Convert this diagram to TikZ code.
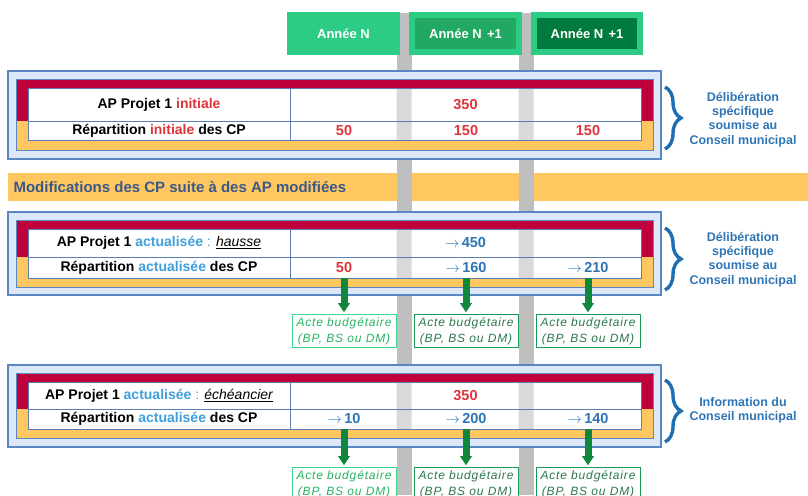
\documentclass[tikz,border=0pt]{standalone}
\usepackage{fontspec}
\setmainfont{Liberation Sans}
\usetikzlibrary{positioning,arrows.meta,decorations.pathreplacing}

\definecolor{hlight}{RGB}{45,204,133}
\definecolor{hmid}{RGB}{33,168,98}
\definecolor{hdark}{RGB}{0,122,61}
\definecolor{barcol}{RGB}{191,191,191}
\definecolor{barlight}{RGB}{217,217,217}
\definecolor{framefill}{RGB}{220,232,248}
\definecolor{framedraw}{RGB}{91,134,196}
\definecolor{tabline}{RGB}{91,125,180}
\definecolor{crim}{RGB}{192,0,60}
\definecolor{orng}{RGB}{255,199,95}
\definecolor{redtxt}{RGB}{222,52,60}
\definecolor{bluetxt}{RGB}{46,117,182}
\definecolor{lbluetxt}{RGB}{64,160,220}
\definecolor{bracecol}{RGB}{31,110,178}
\definecolor{bandtxt}{RGB}{58,88,138}
\definecolor{garrow}{RGB}{16,135,60}
\definecolor{acteA}{RGB}{60,214,140}
\definecolor{acteAtxt}{RGB}{40,180,100}
\definecolor{acteB}{RGB}{30,150,85}
\definecolor{acteBtxt}{RGB}{45,120,75}

\tikzset{
  yearbox/.style={text=white, font=\bfseries\fontsize{13}{15}\selectfont, inner sep=0pt},
  outerframe/.style={fill=framefill, draw=framedraw, line width=1.2pt},
  frameline/.style={draw=framedraw, line width=0.9pt},
  tableline/.style={draw=tabline, line width=0.9pt},
  cell/.style={inner sep=0pt, font=\bfseries\fontsize{14}{16}\selectfont},
  valcell/.style={inner sep=0pt, minimum width=90pt, font=\bfseries\fontsize{14.5}{16}\selectfont},
  actebox/.style={draw, fill=white, line width=1pt, minimum width=104pt, minimum height=33pt,
    inner sep=0pt, align=center,
    font=\itshape\fontsize{12}{16.5}\selectfont\addfontfeature{LetterSpace=7}},
  greenarrow/.style={line width=7pt, draw=garrow,
    -{Triangle[width=12pt,length=9pt,line width=0pt]}, shorten >=2pt},
  sidebrace/.style={decorate, decoration={brace, amplitude=16pt}, draw=bracecol, line width=3.4pt},
  sidetext/.style={align=center, text=bluetxt, font=\bfseries\fontsize{12.5}{14.3}\selectfont},
}

\begin{document}
\begin{tikzpicture}[x=1pt, y=-1pt]
\clip (0,0) rectangle (808,495);

% bandeau et colonnes
\fill[orng] (8,173) rectangle (808,201);
\node[anchor=west, text=bandtxt, font=\bfseries\fontsize{15}{17}\selectfont] (band) at (10,187)
  {Modifications des CP suite à des AP modifiées};
\fill[barcol] (396.5,13) rectangle (411.5,495);
\fill[barcol] (518.5,13) rectangle (533.5,495);

% annees
\node[yearbox, fill=hlight, minimum width=113pt, minimum height=43pt] (yN) at (343.5,33.5) {Année N};
\node[yearbox, fill=hmid, draw=hlight, line width=6pt, minimum width=107pt, minimum height=37pt]
  (yN1) at (465.5,33.5) {Année N\hspace{0.4em}+1};
\node[yearbox, fill=hdark, draw=hlight, line width=6pt, minimum width=106pt, minimum height=37pt]
  (yN2) at (587,33.5) {Année N\hspace{0.4em}+1};

% AP initiale
\draw[outerframe] (8,71) rectangle (661,159);
\fill[crim] (16,79) rectangle (653,121);
\fill[orng] (16,121) rectangle (653,150);
\draw[frameline] (16,79) rectangle (653,150);
\fill[white] (28,88) rectangle (641,140);
\fill[barlight] (396.5,88) rectangle (411.5,140) (518.5,88) rectangle (533.5,140);
\draw[tableline] (28,88) rectangle (641,140) (28,121) -- (641,121) (290,88) -- (290,140);
\node[cell] (t1ap) at (159,104.5) {AP Projet 1 \textcolor{redtxt}{initiale}};
\node[valcell, text=redtxt] (t1tot) at (465.5,104.5) {350};
\node[cell] (t1rep) at (159,130.5) {Répartition \textcolor{redtxt}{initiale} des CP};
\node[valcell, text=redtxt, minimum height=19pt] (t1c1) at (344,130.5) {50};
\node[valcell, text=redtxt, minimum height=19pt] (t1c2) at (466,130.5) {150};
\node[valcell, text=redtxt, minimum height=19pt] (t1c3) at (588,130.5) {150};
\draw[sidebrace] (665,87) -- (665,149);
\node[sidetext] (t1side) at (743,119.5) {Délibération\\spécifique\\soumise au\\Conseil municipal};

% AP actualisee : hausse
\draw[outerframe] (8,212) rectangle (661,295);
\fill[crim] (16,220) rectangle (653,257);
\fill[orng] (16,257) rectangle (653,287);
\draw[frameline] (16,220) rectangle (653,287);
\fill[white] (28,229) rectangle (641,278);
\fill[barlight] (396.5,229) rectangle (411.5,278) (518.5,229) rectangle (533.5,278);
\draw[tableline] (28,229) rectangle (641,278) (28,257) -- (641,257) (290,229) -- (290,278);
\node[cell] (t2ap) at (159,243) {AP Projet 1 \textcolor{lbluetxt}{actualisée}
  {\mdseries\color{lbluetxt}:} \underline{\mdseries\itshape hausse}};
\node[valcell, text=bluetxt] (t2tot) at (465.5,243) {$\rightarrow$\,450};
\node[cell] (t2rep) at (159,267.5) {Répartition \textcolor{lbluetxt}{actualisée} des CP};
\node[valcell, text=redtxt, minimum height=21pt] (t2c1) at (344,267.5) {50};
\node[valcell, text=bluetxt, minimum height=21pt] (t2c2) at (466,267.5) {$\rightarrow$\,160};
\node[valcell, text=bluetxt, minimum height=21pt] (t2c3) at (588,267.5) {$\rightarrow$\,210};
\draw[sidebrace] (665,228) -- (665,290);
\node[sidetext] (t2side) at (743,259.5) {Délibération\\spécifique\\soumise au\\Conseil municipal};
\node[actebox, draw=acteA, text=acteAtxt, below=36pt of t2c1] (a2c1) {Acte budgétaire\\(BP, BS ou DM)};
\node[actebox, draw=acteB, text=acteBtxt, below=36pt of t2c2] (a2c2) {Acte budgétaire\\(BP, BS ou DM)};
\node[actebox, draw=acteB, text=acteBtxt, below=36pt of t2c3] (a2c3) {Acte budgétaire\\(BP, BS ou DM)};
\draw[greenarrow] (t2c1.south) -- (a2c1.north);
\draw[greenarrow] (t2c2.south) -- (a2c2.north);
\draw[greenarrow] (t2c3.south) -- (a2c3.north);

% AP actualisee : echeancier
\draw[outerframe] (8,365) rectangle (661,447);
\fill[crim] (16,373) rectangle (653,409);
\fill[orng] (16,409) rectangle (653,438);
\draw[frameline] (16,373) rectangle (653,438);
\fill[white] (28,382) rectangle (641,429);
\fill[barlight] (396.5,382) rectangle (411.5,429) (518.5,382) rectangle (533.5,429);
\draw[tableline] (28,382) rectangle (641,429) (28,409) -- (641,409) (290,382) -- (290,429);
\node[cell] (t3ap) at (159,395.5) {AP Projet 1 \textcolor{lbluetxt}{actualisée}
  {\mdseries\color{lbluetxt}:} \underline{\mdseries\itshape échéancier}};
\node[valcell, text=redtxt] (t3tot) at (465.5,395.5) {350};
\node[cell] (t3rep) at (159,419) {Répartition \textcolor{lbluetxt}{actualisée} des CP};
\node[valcell, text=bluetxt, minimum height=20pt] (t3c1) at (344,419) {$\rightarrow$\,10};
\node[valcell, text=bluetxt, minimum height=20pt] (t3c2) at (466,419) {$\rightarrow$\,200};
\node[valcell, text=bluetxt, minimum height=20pt] (t3c3) at (588,419) {$\rightarrow$\,140};
\draw[sidebrace] (665,380) -- (665,442);
\node[sidetext] (t3side) at (743,410.5) {Information du\\Conseil municipal};
\node[actebox, draw=acteA, text=acteAtxt, below=38pt of t3c1] (a3c1) {Acte budgétaire\\(BP, BS ou DM)};
\node[actebox, draw=acteB, text=acteBtxt, below=38pt of t3c2] (a3c2) {Acte budgétaire\\(BP, BS ou DM)};
\node[actebox, draw=acteB, text=acteBtxt, below=38pt of t3c3] (a3c3) {Acte budgétaire\\(BP, BS ou DM)};
\draw[greenarrow] (t3c1.south) -- (a3c1.north);
\draw[greenarrow] (t3c2.south) -- (a3c2.north);
\draw[greenarrow] (t3c3.south) -- (a3c3.north);
\end{tikzpicture}
\end{document}
